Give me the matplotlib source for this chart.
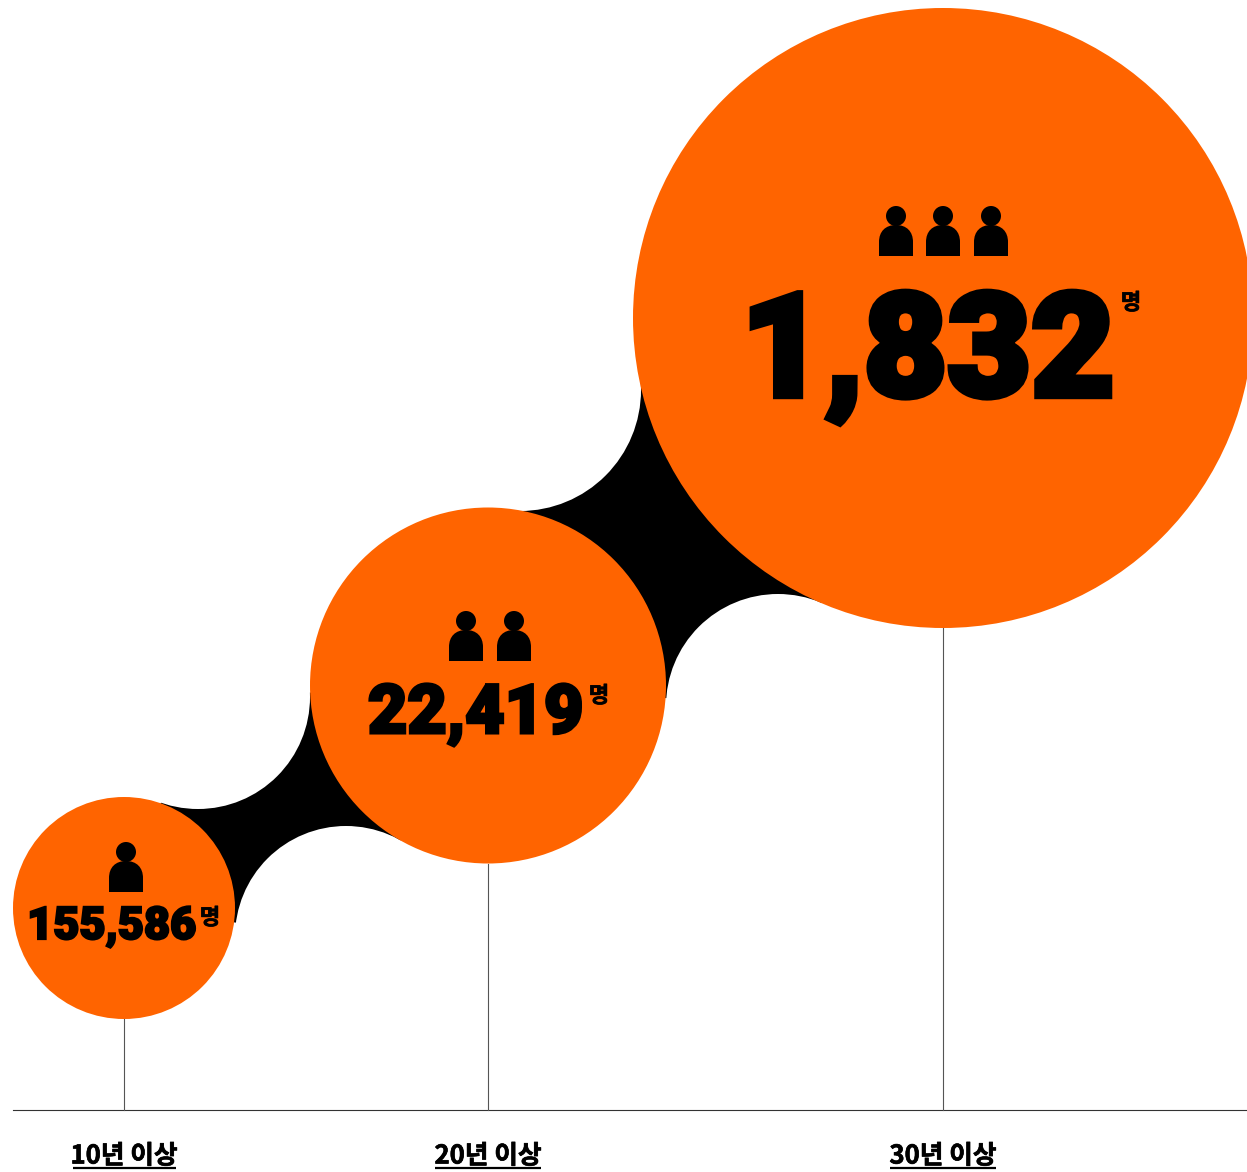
import matplotlib
matplotlib.use("Agg")
import matplotlib.pyplot as plt
from matplotlib.patches import Circle, Polygon, PathPatch
from matplotlib.path import Path
import matplotlib.patheffects as pe

# ---- data ----
groups = ["10년 이상", "20년 이상", "30년 이상"]
counts = [155586, 22419, 1832]
unit = "명"
icon_counts = [1, 2, 3]

# ---- layout (reference pixels) ----
W, H = 1247, 1172
centers_x = [124, 488, 943]
centers_y = [908, 685.5, 318]
radii = [111, 178, 310]
# white tangent circles that carve each connector: (x, y, r)
carve_top = [(198, 697, 112), (520, 390, 121)]
carve_bottom = [(346, 937, 111), (778, 706, 112)]
baseline_y = 1110
value_cx = [111.5, 475.5, 928]
value_base = [939, 733, 396]
value_size = [32.5, 49, 104]
value_stroke = [1.6, 2.2, 4.6]
unit_xy = [(210, 918), (599, 696), (1131, 303)]
icon_xs = [[126], [466, 514], [896, 943, 991]]
icon_head_y = [852, 621, 216]
ORANGE = "#FF6400"

fig = plt.figure(figsize=(W / 100, H / 100), dpi=100)
ax = fig.add_axes([0, 0, 1, 1])
ax.set_xlim(0, W)
ax.set_ylim(H, 0)
ax.axis("off")

for i in range(2):
    quad = [(centers_x[i], centers_y[i]), carve_top[i][:2],
            (centers_x[i + 1], centers_y[i + 1]), carve_bottom[i][:2]]
    ax.add_patch(Polygon(quad, closed=True, fc="black", ec="none", zorder=1))
    for cx, cy, r in (carve_top[i], carve_bottom[i]):
        ax.add_patch(Circle((cx, cy), r, fc="white", ec="none", zorder=2))

ax.plot([13, W], [baseline_y, baseline_y], color="#333333", lw=0.8, zorder=3)
for x, y, r in zip(centers_x, centers_y, radii):
    ax.plot([x, x], [y + r, baseline_y], color="#555555", lw=0.8, zorder=3)
    ax.add_patch(Circle((x, y), r, fc=ORANGE, ec="none", zorder=4))

KR = ["Noto Sans CJK KR", "DejaVu Sans"]
NUM = ["Roboto", "Noto Sans CJK KR", "DejaVu Sans"]


def person(x, head_y):
    ax.add_patch(Circle((x, head_y), 10, fc="black", ec="none", zorder=5))
    top = head_y + 9
    bot = head_y + 40
    w = 17
    k = 0.62 * w
    verts = [(x - w, bot), (x - w, top + w), (x - w, top + w - k), (x - k, top), (x, top),
             (x + k, top), (x + w, top + w - k), (x + w, top + w), (x + w, bot), (x - w, bot)]
    codes = [Path.MOVETO, Path.LINETO, Path.CURVE4, Path.CURVE4, Path.CURVE4,
             Path.CURVE4, Path.CURVE4, Path.CURVE4, Path.LINETO, Path.CLOSEPOLY]
    ax.add_patch(PathPatch(Path(verts, codes), fc="black", ec="none", zorder=5))


for i, n in enumerate(counts):
    for x in icon_xs[i]:
        person(x, icon_head_y[i])
    t = ax.text(value_cx[i], value_base[i], f"{n:,}", family=NUM, weight=900, fontsize=value_size[i],
                ha="center", va="baseline", color="black", zorder=6)
    t.set_path_effects([pe.withStroke(linewidth=value_stroke[i], foreground="black", joinstyle="miter")])
    u = ax.text(*unit_xy[i], unit, family=KR, weight=900, fontsize=16, ha="center", va="center",
                color="black", zorder=6)
    u.set_path_effects([pe.withStroke(linewidth=0.5, foreground="black")])
    lab = ax.text(centers_x[i], 1156, groups[i], family=KR, weight=700, fontsize=18.5, ha="center",
                  va="center", color="black", zorder=6)
    lab.set_path_effects([pe.withStroke(linewidth=0.5, foreground="black")])
    half = 51.5 if i == 0 else 53
    ax.plot([centers_x[i] - half, centers_x[i] + half], [1167.5, 1167.5], color="black", lw=1.6, zorder=6,
            solid_capstyle="butt")

fig.savefig("out.png", dpi=100)
